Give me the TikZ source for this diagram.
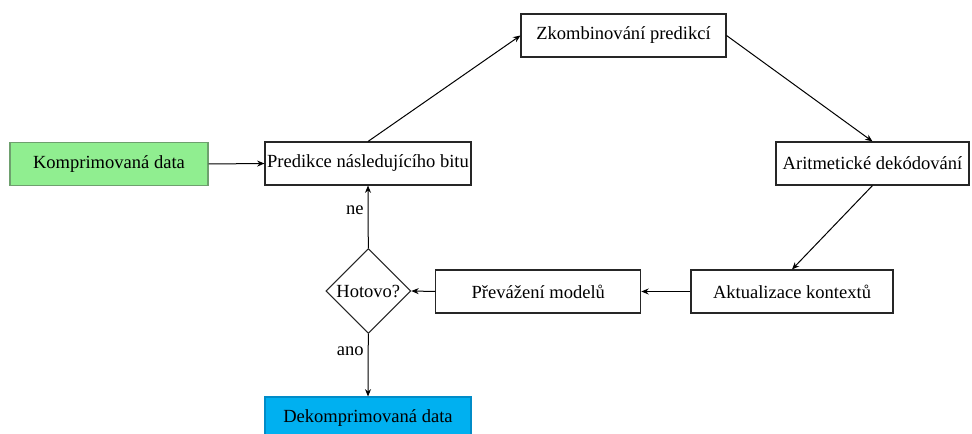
\documentclass[tikz,border=0pt]{standalone}
\usepackage{fontspec}
\setmainfont{Liberation Serif}
\usetikzlibrary{shapes.geometric,arrows.meta}
\definecolor{komp}{RGB}{144,238,144}
\definecolor{kompline}{RGB}{110,160,110}
\definecolor{dekomp}{RGB}{0,176,240}
\definecolor{dekompline}{RGB}{0,140,200}
\begin{document}
\begin{tikzpicture}[x=0.75pt,y=-0.75pt,
  every node/.style={font=\fontsize{13.9pt}{16pt}\selectfont, inner sep=0pt},
  procbox/.style={draw=black!85, line width=0.8pt, fill=white, rectangle, minimum height=43*0.75pt},
  decision/.style={draw=black!85, line width=0.8pt, fill=white, diamond, minimum width=85*0.75pt, minimum height=85*0.75pt},
  flow/.style={-{Stealth[length=5.5pt,width=4.5pt]}, line width=0.75pt}]
\useasboundingbox (0,0) rectangle (972,434);
\fill[white] (0,0) rectangle (972,434);

\node[procbox, fill=komp, draw=kompline, minimum width=198*0.75pt] (komp) at (109,164) {Komprimovaná data};
\node[procbox, minimum width=206*0.75pt] (pred) at (368,163.5) {Predikce následujícího bitu};
\node[procbox, minimum width=205*0.75pt] (zkomb) at (623.5,35.5) {Zkombinování predikcí};
\node[procbox, minimum width=193*0.75pt] (aritm) at (872.5,163.5) {Aritmetické dekódování};
\node[procbox, minimum width=202*0.75pt] (aktual) at (792,291.5) {Aktualizace kontextů};
\node[procbox, minimum width=205*0.75pt] (preva) at (538.3,291.5) {Převážení modelů};
\node[decision] (hotovo) at (368.3,291) {Hotovo?};
\node[procbox, fill=dekomp, draw=dekompline, minimum width=206*0.75pt] (dekomp) at (368,418.5) {Dekomprimovaná data};

\draw[flow] (komp.east) -- (pred.west);
\draw[flow] (pred.north) -- (zkomb.west);
\draw[flow] (zkomb.east) -- (aritm.north);
\draw[flow] (aritm.south) -- (aktual.north);
\draw[flow] (aktual.west) -- (preva.east);
\draw[flow] (preva.west) -- (hotovo.east);
\draw[flow] (hotovo.north) -- node[left=3pt, pos=0.6] {ne} (pred.south);
\draw[flow] (hotovo.south) -- node[left=3pt, pos=0.27] {ano} (dekomp.north);
\end{tikzpicture}
\end{document}
